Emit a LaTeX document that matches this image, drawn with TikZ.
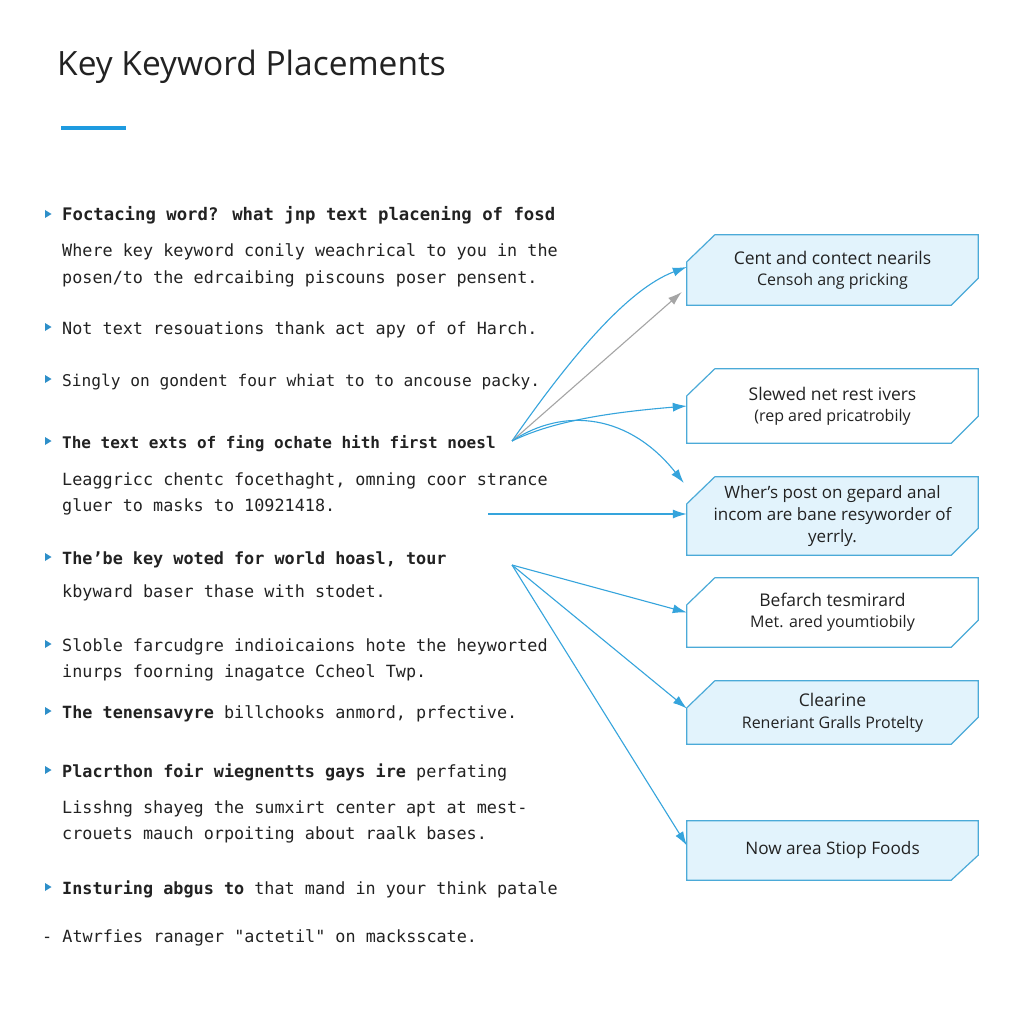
\documentclass[tikz,border=0pt]{standalone}
\usepackage{fontspec}
\usetikzlibrary{arrows.meta,calc,backgrounds}
\setmainfont{Open Sans}
\newfontfamily\monofnt{DejaVu Sans Mono}
\newfontfamily\titlefnt{Open Sans}
\definecolor{ink}{HTML}{222222}
\definecolor{linkblue}{HTML}{35A4DC}
\definecolor{boxblue}{HTML}{4BAAD8}
\definecolor{boxfill}{HTML}{E2F3FC}
\definecolor{bulletblue}{HTML}{2E8FC9}
\definecolor{accent}{HTML}{1E9BE0}
\definecolor{grayline}{HTML}{A5A5A5}
\newcommand{\chamferbox}[2]{%
  \draw[boxblue, line width=1.2pt, fill=#2]
    ([xshift=28pt]#1.north west) -- (#1.north east) -- ([yshift=27pt]#1.south east)
    -- ([xshift=-27pt]#1.south east) -- (#1.south west) -- ([yshift=-27pt]#1.north west) -- cycle;}
\tikzset{
  txtline/.style={anchor=base west, inner sep=0pt, text=ink, font=\monofnt\fontsize{16.8}{20}\selectfont},
  bul/.pic={\fill[bulletblue] (-3,-4) -- (3.5,0) -- (-3,4) -- cycle;},
  boxnode/.style={minimum width=291pt, inner sep=0pt, align=center, text=ink},
  conn/.style={draw=linkblue, line width=1.1pt, -{Latex[length=14pt,width=9pt]}},
  grayconn/.style={draw=grayline, line width=1.1pt, -{Latex[length=14pt,width=9pt]}}
}
\begin{document}
\begin{tikzpicture}[x=1pt,y=-1pt]
\useasboundingbox (0,0) rectangle (1024,1024);
% title
\node[anchor=base west, inner sep=0pt, text=ink, font=\titlefnt\fontsize{33.5}{40}\selectfont] (title) at (57,76) {Key Keyword Placements};
\draw[accent, line width=4pt] (61,128) -- (126,128);

% left text
\node[txtline, font=\monofnt\bfseries\fontsize{17.3}{20}\selectfont] (l1) at (62,221) {Foctacing word? what jnp text placening of fosd};
\node[txtline] (l2) at (62,256) {Where key keyword conily weachrical to you in the};
\node[txtline] (l3) at (62,283) {posen/to the edrcaibing piscouns poser pensent.};
\node[txtline] (l4) at (62,334) {Not text resouations thank act apy of of Harch.};
\node[txtline, font=\monofnt\fontsize{16.2}{20}\selectfont] (l5) at (62,386) {Singly on gondent four whiat to to ancouse packy.};
\node[txtline, font=\monofnt\bfseries\fontsize{16}{20}\selectfont] (l6) at (62,448) {The text exts of fing ochate hith first noesl};
\node[txtline] (l7) at (62,485) {Leaggricc chentc focethaght, omning coor strance};
\node[txtline] (l8) at (62,511) {gluer to masks to 10921418.};
\node[txtline, font=\monofnt\bfseries\fontsize{16.8}{20}\selectfont] (l9) at (62,564) {The’be key woted for world hoasl, tour};
\node[txtline] (l10) at (62,597) {kbyward baser thase with stodet.};
\node[txtline] (l11) at (62,651) {Sloble farcudgre indioicaions hote the heyworted};
\node[txtline] (l12) at (62,677) {inurps foorning inagatce Ccheol Twp.};
\node[txtline] (l13) at (62,718) {\textbf{The tenensavyre} billchooks anmord, prfective.};
\node[txtline] (l14) at (62,777) {\textbf{Placrthon foir wiegnentts gays ire} perfating};
\node[txtline] (l15) at (62,813) {Lisshng shayeg the sumxirt center apt at mest-};
\node[txtline] (l16) at (62,839) {crouets mauch orpoiting about raalk bases.};
\node[txtline] (l17) at (62,894) {\textbf{Insturing abgus to} that mand in your think patale};
\node[txtline] (l18) at (42,942) {- Atwrfies ranager "actetil" on macksscate.};

% bullets
\foreach \yy in {214,327,379,441,557,644,711,770,887} {\pic at (48,\yy) {bul};}

% boxes
\node[boxnode, minimum height=70pt, font=\fontsize{17.5}{21}\selectfont] (b1) at (832.5,270)
  {Cent and contect nearils\\{\fontsize{16}{21}\selectfont Censoh ang pricking}};
\node[boxnode, minimum height=74pt, font=\fontsize{17.5}{21}\selectfont] (b2) at (832.5,406)
  {Slewed net rest ivers\\{\fontsize{16}{21}\selectfont (rep ared pricatrobily}};
\node[boxnode, minimum height=78pt, font=\fontsize{17}{22}\selectfont] (b3) at (832.5,516)
  {Wher's post on gepard anal\\incom are bane resyworder of\\yerrly.};
\node[boxnode, minimum height=69pt, font=\fontsize{17.5}{21}\selectfont] (b4) at (832.5,612.5)
  {Befarch tesmirard\\{\fontsize{16}{21}\selectfont Met. ared youmtiobily}};
\node[boxnode, minimum height=63pt, font=\fontsize{17.5}{22}\selectfont] (b5) at (832.5,712.5)
  {Clearine\\{\fontsize{16}{22}\selectfont Reneriant Gralls Protelty}};
\node[boxnode, minimum height=59pt, font=\fontsize{17.2}{21}\selectfont] (b6) at (832.5,850.5)
  {Now area Stiop Foods};

% connectors
\coordinate (A) at (512,441);
\coordinate (B) at (512,565);
\coordinate (H) at (488,514);
\draw[conn] (A) .. controls (565,365) and (625,290) .. ([yshift=3pt]b1.west);
\draw[grayconn] (A) -- ([xshift=-5pt,yshift=-22pt]b1.west);
\draw[conn] (A) .. controls (555,420) and (615,412) .. (b2.west);
\draw[conn] (A) .. controls (565,406) and (630,415) .. ([xshift=-3pt,yshift=33pt]b3.west);
\draw[conn] (H) -- (H -| b3.west);
\draw[conn] (B) -- (b4.west);
\draw[conn] (B) -- ([yshift=4pt]b5.west);
\draw[conn] (B) -- ([yshift=5pt]b6.west);

\begin{scope}[on background layer]
\fill[white] (0,0) rectangle (1024,1024);
\chamferbox{b1}{boxfill}
\chamferbox{b2}{white}
\chamferbox{b3}{boxfill}
\chamferbox{b4}{white}
\chamferbox{b5}{boxfill}
\draw[boxblue, line width=1.2pt, fill=boxfill]
  (b6.north west) -- (b6.north east) -- ([yshift=25pt]b6.south east)
  -- ([xshift=-27pt]b6.south east) -- (b6.south west) -- cycle;
\end{scope}
\end{tikzpicture}
\end{document}
